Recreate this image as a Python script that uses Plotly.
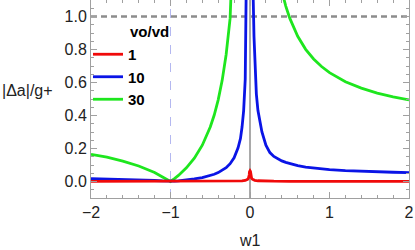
import plotly.graph_objects as go

# Series values
w_left = [-2.0, -1.8, -1.6, -1.4, -1.2, -1.1, -1.05, -1.0, -0.95, -0.9, -0.8, -0.7, -0.6, -0.5,
          -0.45, -0.4, -0.35, -0.3, -0.25, -0.2, -0.15, -0.12, -0.1, -0.08, -0.06, -0.05, -0.04, -0.03, -0.02]
w_right = [0.02, 0.03, 0.04, 0.05, 0.06, 0.08, 0.1, 0.12, 0.15, 0.2, 0.25, 0.3, 0.35, 0.4, 0.45, 0.5,
           0.6, 0.7, 0.8, 0.9, 1.0, 1.2, 1.4, 1.6, 1.8, 2.0]

green_left = [0.165, 0.147, 0.124, 0.094, 0.055, 0.030, 0.0157, 0.0, 0.0174, 0.037, 0.0825, 0.141,
              0.22, 0.33, 0.403, 0.495, 0.613, 0.77, 0.99, 1.32, 1.87, 2.42, 2.97, 3.8, 5.2, 6.3, 7.9, 10.7, 16.2]
green_right = [16.8, 11.3, 8.6, 6.9, 5.8, 4.46, 3.63, 3.08, 2.53, 1.98, 1.65, 1.43, 1.273, 1.155, 1.063,
               0.99, 0.88, 0.801, 0.7425, 0.697, 0.66, 0.605, 0.566, 0.536, 0.513, 0.495]

blue_left = [0.018, 0.016, 0.0135, 0.0103, 0.006, 0.0033, 0.0017, 0.0, 0.0019, 0.004, 0.009, 0.0154,
             0.024, 0.036, 0.044, 0.054, 0.0669, 0.084, 0.108, 0.144, 0.204, 0.26, 0.33, 0.43, 0.62,
             0.80, 1.08, 1.6, 2.4]
blue_right = [2.4, 1.6, 1.12, 0.88, 0.72, 0.53, 0.43, 0.37, 0.30, 0.22, 0.175, 0.152, 0.137, 0.125,
              0.116, 0.108, 0.096, 0.0874, 0.081, 0.076, 0.072, 0.066, 0.0617, 0.0585, 0.056, 0.054]

w_red = [-2.0, -1.5, -1.0, -0.5, -0.3, -0.2, -0.1, -0.06, -0.04, -0.03, -0.02, -0.015, -0.01, -0.006,
         0.0, 0.006, 0.01, 0.015, 0.02, 0.03, 0.04, 0.06, 0.1, 0.2, 0.3, 0.5, 1.0, 1.5, 2.0]
red_vals = [0.0002, 0.00013, 0.0, 0.0004, 0.0009, 0.0016, 0.0036, 0.0063, 0.0096, 0.0129, 0.0196,
            0.026, 0.0396, 0.06, 0.065, 0.06, 0.0404, 0.027, 0.0204, 0.0137, 0.0104, 0.0071, 0.0044,
            0.0024, 0.0017, 0.0012, 0.0008, 0.0007, 0.0006]

series_names = ["1", "10", "30"]
x_ticks = [-2, -1, 0, 1, 2]
x_tick_text = ["\u22122", "\u22121", "0", "1", "2"]
y_ticks = [0.0, 0.2, 0.4, 0.6, 0.8, 1.0]
y_tick_text = ["0.0", "0.2", "0.4", "0.6", "0.8", "1.0"]

FONT = "Liberation Sans, Arial, sans-serif"
LW = 2.8
W, H = 415, 250
ML, MR, MT, MB = 91, 6, 0, 52

fig = go.Figure()

# reference lines
fig.add_trace(go.Scatter(x=[-1, -1], y=[-0.1, 1.1], mode="lines",
                         line=dict(color="#b4b8f0", width=1, dash="dash"),
                         showlegend=False, hoverinfo="skip"))
fig.add_trace(go.Scatter(x=[0, 0], y=[-0.1, 1.1], mode="lines",
                         line=dict(color="#8c8c8c", width=1.5),
                         showlegend=False, hoverinfo="skip"))
fig.add_trace(go.Scatter(x=[-2, 2], y=[1.0, 1.0], mode="lines",
                         line=dict(color="#8c8c8c", width=2.5, dash="6px,4px"),
                         showlegend=False, hoverinfo="skip"))

GREEN, BLUE, RED = "#1ee61e", "#0a14e6", "#f00a0a"
fig.add_trace(go.Scatter(x=w_left, y=green_left, mode="lines", line=dict(color=GREEN, width=LW), showlegend=False))
fig.add_trace(go.Scatter(x=w_right, y=green_right, mode="lines", line=dict(color=GREEN, width=LW), showlegend=False))
fig.add_trace(go.Scatter(x=w_left, y=blue_left, mode="lines", line=dict(color=BLUE, width=LW), showlegend=False))
fig.add_trace(go.Scatter(x=w_right, y=blue_right, mode="lines", line=dict(color=BLUE, width=LW), showlegend=False))
fig.add_trace(go.Scatter(x=w_red, y=red_vals, mode="lines", line=dict(color=RED, width=LW), showlegend=False))

# legend entries
for name, col in zip(series_names, [RED, BLUE, GREEN]):
    fig.add_trace(go.Scatter(x=[None], y=[None], mode="lines", name=name,
                             line=dict(color=col, width=LW)))

axis_common = dict(showline=True, linecolor="#a0a0a0", linewidth=1, mirror="ticks",
                   ticks="inside", tickcolor="#a0a0a0", showgrid=False, zeroline=False,
                   tickfont=dict(family=FONT, size=16, color="#222222"))

fig.update_xaxes(range=[-2, 2], tickvals=x_ticks, ticktext=x_tick_text, ticklen=6,
                 minor=dict(ticks="inside", dtick=0.2, ticklen=3, tickcolor="#a0a0a0"),
                 **axis_common)
fig.update_yaxes(range=[-0.1, 1.1], tickvals=y_ticks, ticktext=y_tick_text, ticklen=6,
                 minor=dict(ticks="inside", dtick=0.05, ticklen=3, tickcolor="#a0a0a0"),
                 **axis_common)

pw, ph = W - ML - MR, H - MT - MB


def px2paper(px, py):
    return (px - ML) / pw, 1 - (py - MT) / ph


def ann(text, px, py, **kw):
    x, y = px2paper(px, py)
    d = dict(text=text, x=x, y=y, xref="paper", yref="paper", showarrow=False,
             xanchor="center", yanchor="middle",
             font=dict(family=FONT, size=16, color="#222222"))
    d.update(kw)
    return d


lx, ly = px2paper(88, 38)

fig.update_layout(
    width=W, height=H,
    margin=dict(l=ML, r=MR, t=MT, b=MB),
    paper_bgcolor="white", plot_bgcolor="white",
    font=dict(family=FONT, size=16, color="#222222"),
    showlegend=True,
    legend=dict(x=lx, y=ly, xanchor="left", yanchor="top", bgcolor="rgba(0,0,0,0)",
                font=dict(family=FONT, size=15, color="#000000", weight="bold"),
                tracegroupgap=0, itemwidth=30),
    annotations=[
        ann("<b>vo/vd</b>", 149, 31, font=dict(family=FONT, size=15, color="#000000")),
        ann("w1", 250, 240),
        ann("|\u0394a|/g+", 28, 90),
    ],
)

fig.write_html("out.html", config={"displayModeBar": False},
               post_script="document.body.style.margin='0';document.body.style.padding='0';")
